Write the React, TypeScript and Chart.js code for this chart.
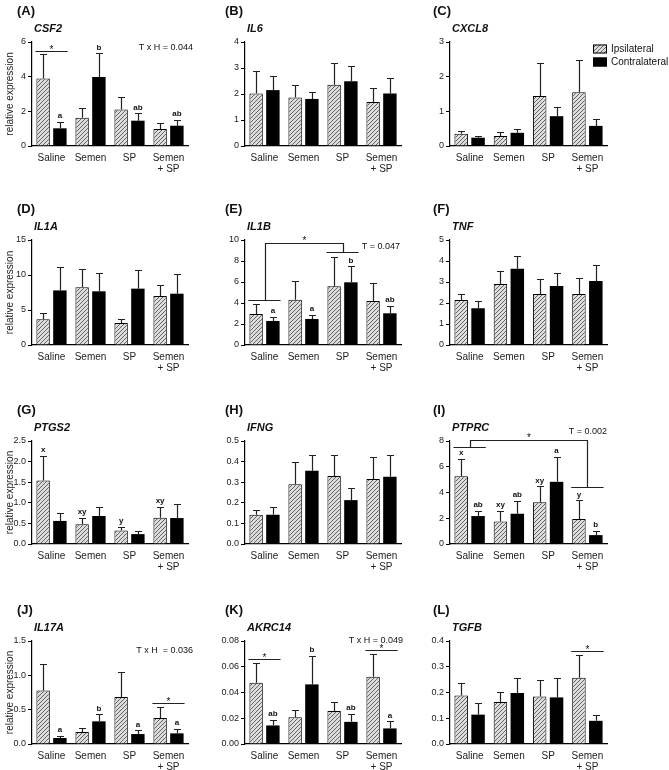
import React, { useEffect, useRef } from 'react';
import { Chart, registerables } from 'chart.js';
Chart.register(...registerables);

const FONT = "'Liberation Sans', Arial, Helvetica, sans-serif";
Chart.defaults.font.family = FONT;

const categories: (string | string[])[] = ['Saline', 'Semen', 'SP', ['Semen', '+ SP']];
const seriesNames = ['Ipsilateral', 'Contralateral'];

// A CSF2
const csf2Ipsi = [3.9, 1.63, 2.1, 0.98];
const csf2IpsiSem = [1.43, 0.59, 0.74, 0.34];
const csf2Contra = [1.02, 3.98, 1.46, 1.17];
const csf2ContraSem = [0.36, 1.36, 0.42, 0.32];
// B IL6
const il6Ipsi = [2.02, 1.87, 2.36, 1.69];
const il6IpsiSem = [0.87, 0.47, 0.85, 0.53];
const il6Contra = [2.15, 1.81, 2.49, 2.02];
const il6ContraSem = [0.56, 0.27, 0.6, 0.58];
// C CXCL8
const cxcl8Ipsi = [0.35, 0.29, 1.44, 1.55];
const cxcl8IpsiSem = [0.08, 0.11, 0.94, 0.94];
const cxcl8Contra = [0.24, 0.38, 0.86, 0.58];
const cxcl8ContraSem = [0.06, 0.1, 0.27, 0.2];
// D IL1A
const il1aIpsi = [3.67, 8.24, 3.14, 7.0];
const il1aIpsiSem = [0.9, 2.66, 0.53, 1.62];
const il1aContra = [7.8, 7.67, 8.05, 7.33];
const il1aContraSem = [3.4, 2.57, 2.65, 2.77];
// E IL1B
const il1bIpsi = [2.95, 4.32, 5.59, 4.19];
const il1bIpsiSem = [0.99, 1.74, 2.82, 1.75];
const il1bContra = [2.29, 2.48, 5.97, 3.02];
const il1bContraSem = [0.41, 0.38, 1.52, 0.73];
// F TNF
const tnfIpsi = [2.14, 2.9, 2.43, 2.43];
const tnfIpsiSem = [0.3, 0.61, 0.7, 0.74];
const tnfContra = [1.75, 3.63, 2.81, 3.05];
const tnfContraSem = [0.35, 0.59, 0.62, 0.76];
// G PTGS2
const ptgs2Ipsi = [1.54, 0.48, 0.33, 0.64];
const ptgs2IpsiSem = [0.59, 0.16, 0.09, 0.26];
const ptgs2Contra = [0.56, 0.68, 0.24, 0.63];
const ptgs2ContraSem = [0.2, 0.21, 0.08, 0.35];
// H IFNG
const ifngIpsi = [0.142, 0.29, 0.33, 0.315];
const ifngIpsiSem = [0.024, 0.107, 0.104, 0.105];
const ifngContra = [0.142, 0.356, 0.213, 0.327];
const ifngContraSem = [0.04, 0.078, 0.061, 0.105];
// I PTPRC
const ptprcIpsi = [5.27, 1.74, 3.25, 1.94];
const ptprcIpsiSem = [1.35, 0.82, 1.23, 1.44];
const ptprcContra = [2.17, 2.35, 4.83, 0.69];
const ptprcContraSem = [0.41, 1.0, 1.95, 0.33];
// J IL17A
const il17aIpsi = [0.78, 0.174, 0.686, 0.38];
const il17aIpsiSem = [0.38, 0.066, 0.364, 0.156];
const il17aContra = [0.087, 0.33, 0.145, 0.155];
const il17aContraSem = [0.029, 0.1, 0.053, 0.062];
// K AKRC14
const akrc14Ipsi = [0.0476, 0.0208, 0.0257, 0.0522];
const akrc14IpsiSem = [0.0152, 0.0054, 0.007, 0.018];
const akrc14Contra = [0.0144, 0.0463, 0.0172, 0.0121];
const akrc14ContraSem = [0.0044, 0.0219, 0.006, 0.0054];
// L TGFB
const tgfbIpsi = [0.188, 0.163, 0.184, 0.257];
const tgfbIpsiSem = [0.05, 0.04, 0.063, 0.088];
const tgfbContra = [0.114, 0.198, 0.181, 0.09];
const tgfbContraSem = [0.045, 0.057, 0.074, 0.024];

// annotations
const csf2Letters = [{ g: 0, s: 1, t: 'a' }, { g: 1, s: 1, t: 'b' }, { g: 2, s: 1, t: 'ab' }, { g: 3, s: 1, t: 'ab' }];
const csf2Sig = [{ g: 0, y: 5.48 }];
const il1bLetters = [{ g: 0, s: 1, t: 'a' }, { g: 1, s: 1, t: 'a' }, { g: 2, s: 1, t: 'b' }, { g: 3, s: 1, t: 'ab' }];
const il1bBrackets = [{ g1: 0, y1: 4.29, g2: 2, y2: 8.83, top: 9.68 }];
const ptgs2Letters = [{ g: 0, s: 0, t: 'x' }, { g: 1, s: 0, t: 'xy' }, { g: 2, s: 0, t: 'y' }, { g: 3, s: 0, t: 'xy' }];
const ptprcLetters = [
  { g: 0, s: 0, t: 'x' }, { g: 1, s: 0, t: 'xy' }, { g: 2, s: 0, t: 'xy' }, { g: 3, s: 0, t: 'y' },
  { g: 0, s: 1, t: 'ab' }, { g: 1, s: 1, t: 'ab' }, { g: 2, s: 1, t: 'a' }, { g: 3, s: 1, t: 'b' },
];
const ptprcBrackets = [{ g1: 0, y1: 7.52, g2: 3, y2: 4.42, top: 8.06 }];
const il17aLetters = [{ g: 0, s: 1, t: 'a' }, { g: 1, s: 1, t: 'b' }, { g: 2, s: 1, t: 'a' }, { g: 3, s: 1, t: 'a' }];
const il17aSig = [{ g: 3, y: 0.6 }];
const akrc14Letters = [{ g: 0, s: 1, t: 'ab' }, { g: 1, s: 1, t: 'b' }, { g: 2, s: 1, t: 'ab' }, { g: 3, s: 1, t: 'a' }];
const akrc14Sig = [{ g: 0, y: 0.066 }, { g: 3, y: 0.0733 }];
const tgfbSig = [{ g: 3, y: 0.361 }];

type Panel = {
  label: string; gene: string; col: number; row: number;
  ipsi: number[]; ipsiSem: number[]; contra: number[]; contraSem: number[];
  max: number; step: number; dec: number;
  letters?: { g: number; s: number; t: string }[];
  sig?: { g: number; y: number }[];
  brackets?: { g1: number; y1: number; g2: number; y2: number; top: number }[];
  stat?: { text: string; dx: number; dy: number };
  legend?: boolean;
};

const panels: Panel[] = [
  { label: '(A)', gene: 'CSF2', col: 0, row: 0, ipsi: csf2Ipsi, ipsiSem: csf2IpsiSem, contra: csf2Contra, contraSem: csf2ContraSem, max: 6, step: 2, dec: 0, letters: csf2Letters, sig: csf2Sig, stat: { text: 'T x H = 0.044', dx: 5, dy: 6 } },
  { label: '(B)', gene: 'IL6', col: 1, row: 0, ipsi: il6Ipsi, ipsiSem: il6IpsiSem, contra: il6Contra, contraSem: il6ContraSem, max: 4, step: 1, dec: 0 },
  { label: '(C)', gene: 'CXCL8', col: 2, row: 0, ipsi: cxcl8Ipsi, ipsiSem: cxcl8IpsiSem, contra: cxcl8Contra, contraSem: cxcl8ContraSem, max: 3, step: 1, dec: 0, legend: true },
  { label: '(D)', gene: 'IL1A', col: 0, row: 1, ipsi: il1aIpsi, ipsiSem: il1aIpsiSem, contra: il1aContra, contraSem: il1aContraSem, max: 15, step: 5, dec: 0 },
  { label: '(E)', gene: 'IL1B', col: 1, row: 1, ipsi: il1bIpsi, ipsiSem: il1bIpsiSem, contra: il1bContra, contraSem: il1bContraSem, max: 10, step: 2, dec: 0, letters: il1bLetters, brackets: il1bBrackets, stat: { text: 'T = 0.047', dx: -1, dy: 7 } },
  { label: '(F)', gene: 'TNF', col: 2, row: 1, ipsi: tnfIpsi, ipsiSem: tnfIpsiSem, contra: tnfContra, contraSem: tnfContraSem, max: 5, step: 1, dec: 0 },
  { label: '(G)', gene: 'PTGS2', col: 0, row: 2, ipsi: ptgs2Ipsi, ipsiSem: ptgs2IpsiSem, contra: ptgs2Contra, contraSem: ptgs2ContraSem, max: 2.5, step: 0.5, dec: 1, letters: ptgs2Letters },
  { label: '(H)', gene: 'IFNG', col: 1, row: 2, ipsi: ifngIpsi, ipsiSem: ifngIpsiSem, contra: ifngContra, contraSem: ifngContraSem, max: 0.5, step: 0.1, dec: 1 },
  { label: '(I)', gene: 'PTPRC', col: 2, row: 2, ipsi: ptprcIpsi, ipsiSem: ptprcIpsiSem, contra: ptprcContra, contraSem: ptprcContraSem, max: 8, step: 2, dec: 0, letters: ptprcLetters, brackets: ptprcBrackets, stat: { text: 'T = 0.002', dx: 0, dy: -9 } },
  { label: '(J)', gene: 'IL17A', col: 0, row: 3, ipsi: il17aIpsi, ipsiSem: il17aIpsiSem, contra: il17aContra, contraSem: il17aContraSem, max: 1.5, step: 0.5, dec: 1, letters: il17aLetters, sig: il17aSig, stat: { text: 'T x H  = 0.036', dx: 5, dy: 10 } },
  { label: '(K)', gene: 'AKRC14', col: 1, row: 3, ipsi: akrc14Ipsi, ipsiSem: akrc14IpsiSem, contra: akrc14Contra, contraSem: akrc14ContraSem, max: 0.08, step: 0.02, dec: 2, letters: akrc14Letters, sig: akrc14Sig, stat: { text: 'T x H = 0.049', dx: 2, dy: 0 } },
  { label: '(L)', gene: 'TGFB', col: 2, row: 3, ipsi: tgfbIpsi, ipsiSem: tgfbIpsiSem, contra: tgfbContra, contraSem: tgfbContraSem, max: 0.4, step: 0.1, dec: 1, sig: tgfbSig },
];

// layout (page pixels)
const COL_LEFT = [0, 205, 425];
const COL_W = [222, 235, 244];
const LX = [32, 245, 450];
const RX = [188, 401, 607];
const LABEL_X = [17, 225, 433];
const ROW_TOP = [0, 188, 380, 575];
const ROW_H = [190, 192, 195, 195];
const TY = [42, 240, 441, 641];
const BY = [146, 345, 544, 744];

function makeHatch(ctx: CanvasRenderingContext2D) {
  const c = document.createElement('canvas');
  c.width = 4; c.height = 4;
  const g = c.getContext('2d')!;
  g.fillStyle = '#dcdcdc';
  g.fillRect(0, 0, 4, 4);
  g.strokeStyle = '#666';
  g.lineWidth = 1;
  g.beginPath();
  g.moveTo(0, 4); g.lineTo(4, 0);
  g.moveTo(-1, 1); g.lineTo(1, -1);
  g.moveTo(3, 5); g.lineTo(5, 3);
  g.stroke();
  return ctx.createPattern(c, 'repeat')!;
}

function PanelChart({ p }: { p: Panel }) {
  const ref = useRef<HTMLCanvasElement>(null);
  const left = COL_LEFT[p.col];
  const top = ROW_TOP[p.row];
  const w = COL_W[p.col];
  const h = ROW_H[p.row];
  useEffect(() => {
    const canvas = ref.current!;
    const ctx = canvas.getContext('2d')!;
    const hatch = makeHatch(ctx);
    const sems = [p.ipsiSem, p.contraSem];
    const ink = '#111';

    const annot = {
      id: 'annot',
      afterDatasetsDraw(chart: any) {
        const c = chart.ctx as CanvasRenderingContext2D;
        const ys = chart.scales.y;
        c.save();
        c.strokeStyle = '#222';
        c.lineWidth = 1.2;
        chart.data.datasets.forEach((ds: any, di: number) => {
          const meta = chart.getDatasetMeta(di);
          meta.data.forEach((bar: any, i: number) => {
            const v = ds.data[i];
            const e = sems[di][i];
            const x = Math.round(bar.x) + 0.5;
            const y0 = ys.getPixelForValue(v);
            const y1 = Math.round(ys.getPixelForValue(v + e)) + 0.5;
            const cap = 3.5;
            c.beginPath();
            c.moveTo(x, y0);
            c.lineTo(x, y1);
            c.moveTo(x - cap, y1);
            c.lineTo(x + cap, y1);
            c.stroke();
          });
        });
        c.restore();
      },
      afterDraw(chart: any) {
        const c = chart.ctx as CanvasRenderingContext2D;
        const ca = chart.chartArea;
        const ys = chart.scales.y;
        const m0 = chart.getDatasetMeta(0);
        const m1 = chart.getDatasetMeta(1);
        const groupExt = (g: number) => {
          const b0 = m0.data[g];
          const b1 = m1.data[g];
          return [b0.x - b0.width / 2 - 1, b1.x + b1.width / 2 + 1];
        };
        c.save();
        c.fillStyle = ink;
        c.strokeStyle = '#222';
        c.lineWidth = 1.2;
        // panel label
        c.font = `bold 13px ${FONT}`;
        c.textAlign = 'left';
        c.textBaseline = 'middle';
        c.fillText(p.label, LABEL_X[p.col] - left, ca.top - 31);
        // gene
        c.font = `italic bold 11px ${FONT}`;
        c.fillText(p.gene, ca.left + 2, ca.top - 13);
        // letters
        c.font = `bold 8px ${FONT}`;
        c.textAlign = 'center';
        c.textBaseline = 'bottom';
        (p.letters || []).forEach((L) => {
          const ds = chart.data.datasets[L.s];
          const bar = chart.getDatasetMeta(L.s).data[L.g];
          const yv = ds.data[L.g] + sems[L.s][L.g];
          c.fillText(L.t, bar.x, ys.getPixelForValue(yv) - 2);
        });
        // simple significance lines
        c.font = `10px ${FONT}`;
        c.textBaseline = 'alphabetic';
        (p.sig || []).forEach((s) => {
          const [a, b] = groupExt(s.g);
          const y = Math.round(ys.getPixelForValue(s.y)) + 0.5;
          c.beginPath();
          c.moveTo(a, y);
          c.lineTo(b, y);
          c.stroke();
          c.fillText('*', (a + b) / 2, y + 1);
        });
        // brackets
        (p.brackets || []).forEach((br) => {
          const [a1, b1] = groupExt(br.g1);
          const [a2, b2] = groupExt(br.g2);
          const y1 = Math.round(ys.getPixelForValue(br.y1)) + 0.5;
          const y2 = Math.round(ys.getPixelForValue(br.y2)) + 0.5;
          const yt = Math.round(ys.getPixelForValue(br.top)) + 0.5;
          const c1 = Math.round((a1 + b1) / 2) + 0.5;
          const c2 = Math.round((a2 + b2) / 2) + 0.5;
          c.beginPath();
          c.moveTo(a1, y1); c.lineTo(b1, y1);
          c.moveTo(c1, y1); c.lineTo(c1, yt); c.lineTo(c2, yt); c.lineTo(c2, y2);
          c.moveTo(a2, y2); c.lineTo(b2, y2);
          c.stroke();
          c.fillText('*', (c1 + c2) / 2, yt);
        });
        // stat text
        if (p.stat) {
          c.font = `9px ${FONT}`;
          c.textAlign = 'right';
          c.textBaseline = 'middle';
          c.fillText(p.stat.text, ca.right + p.stat.dx, ca.top + p.stat.dy);
        }
        // legend
        if (p.legend) {
          const bx = ca.right - 14;
          [0, 1].forEach((k) => {
            const cy = ca.top + 7 + k * 13;
            c.fillStyle = k === 0 ? hatch : '#000';
            c.fillRect(bx, cy - 4.5, 14, 9);
            c.strokeStyle = '#000';
            c.lineWidth = 1;
            c.strokeRect(bx + 0.5, cy - 4, 13, 8);
            c.fillStyle = ink;
            c.font = `10px ${FONT}`;
            c.textAlign = 'left';
            c.textBaseline = 'middle';
            c.fillText(seriesNames[k], ca.right + 4, cy);
          });
        }
        c.restore();
      },
    };

    const yWidth = LX[p.col] - left;
    const xHeight = top + h - BY[p.row];
    const chart = new Chart(ctx, {
      type: 'bar',
      data: {
        labels: categories as any,
        datasets: [
          {
            label: seriesNames[0], data: p.ipsi, backgroundColor: hatch, borderColor: '#000',
            borderWidth: 1, categoryPercentage: 0.86, barPercentage: 0.8,
          },
          {
            label: seriesNames[1], data: p.contra, backgroundColor: '#000', borderColor: '#000',
            borderWidth: 0, categoryPercentage: 0.86, barPercentage: 0.8,
          },
        ],
      },
      options: {
        animation: false,
        responsive: false,
        devicePixelRatio: 1,
        layout: {
          padding: { left: 0, top: TY[p.row] - top, right: left + w - RX[p.col], bottom: 0 },
        },
        plugins: { legend: { display: false }, tooltip: { enabled: false } },
        scales: {
          x: {
            grid: { display: false, drawTicks: false, tickLength: 0 },
            border: { display: true, color: '#000', width: 1.2 },
            ticks: { color: '#222', font: { size: 10, lineHeight: 1.1 }, padding: 7, maxRotation: 0, autoSkip: false },
            afterFit: (s: any) => { s.height = xHeight; },
          },
          y: {
            min: 0,
            max: p.max,
            grid: { display: true, drawOnChartArea: false, drawTicks: true, tickLength: 4, color: '#000' },
            border: { display: true, color: '#000', width: 1.2 },
            ticks: {
              stepSize: p.step, color: '#222', font: { size: 9 }, padding: 2,
              callback: (v: any) => Number(v).toFixed(p.dec),
            },
            title: {
              display: p.col === 0, text: 'relative expression', color: '#222',
              font: { size: 10 }, padding: { top: 4, bottom: 0 },
            },
            afterFit: (s: any) => { s.width = yWidth; },
          },
        },
      } as any,
      plugins: [annot as any],
    });
    return () => chart.destroy();
  }, []);
  return (
    <canvas
      ref={ref}
      width={w}
      height={h}
      style={{ position: 'absolute', left, top, width: w, height: h }}
    />
  );
}

export default function App() {
  return (
    <div style={{ position: 'absolute', left: 0, top: 0, width: 669, height: 770, background: '#fff', overflow: 'hidden' }}>
      {panels.map((p) => (
        <PanelChart key={p.label} p={p} />
      ))}
    </div>
  );
}
